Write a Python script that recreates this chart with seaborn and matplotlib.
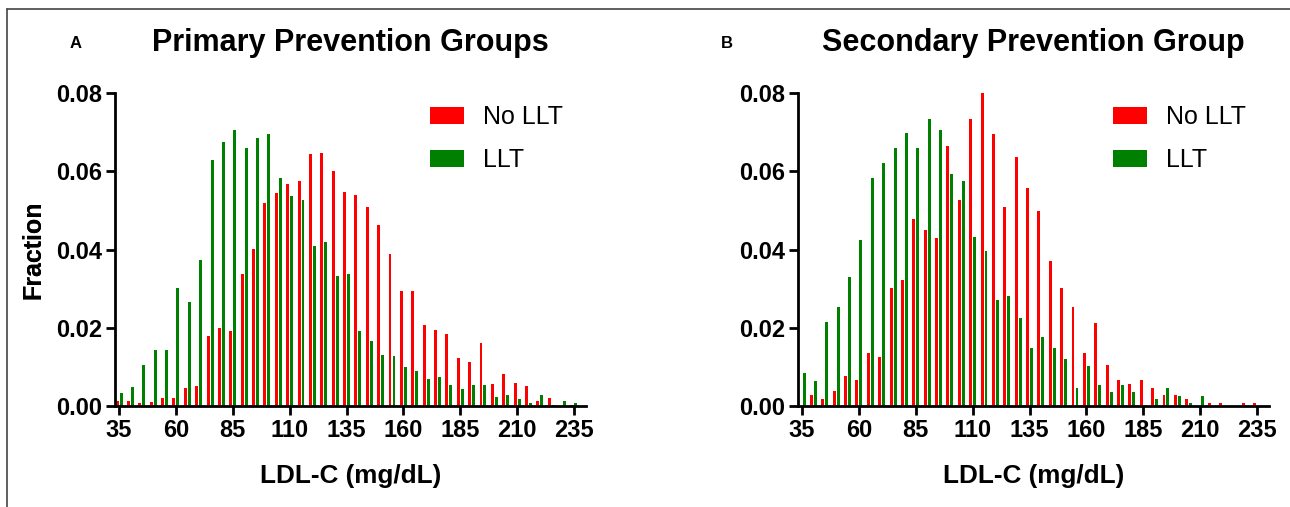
import matplotlib
matplotlib.use("Agg")
import matplotlib.pyplot as plt
import seaborn as sns
import pandas as pd
from matplotlib.lines import Line2D

# ---------------- data ----------------
ldl_bins = [35, 40, 45, 50, 55, 60, 65, 70, 75, 80, 85, 90, 95, 100, 105, 110, 115,
            120, 125, 130, 135, 140, 145, 150, 155, 160, 165, 170, 175, 180, 185,
            190, 195, 200, 205, 210, 215, 220, 225, 230, 235]

primary_no_llt = [0.0013, 0.0013, 0.0008, 0.0010, 0.0020, 0.0020, 0.0046, 0.0051, 0.0179,
                  0.0200, 0.0192, 0.0338, 0.0402, 0.0519, 0.0545, 0.0568, 0.0576, 0.0645,
                  0.0647, 0.0601, 0.0547, 0.0540, 0.0509, 0.0463, 0.0389, 0.0294, 0.0294,
                  0.0207, 0.0194, 0.0184, 0.0123, 0.0113, 0.0161, 0.0056, 0.0082, 0.0059,
                  0.0051, 0.0013, 0.0020, 0.0000, 0.0003]
primary_llt = [0.0033, 0.0049, 0.0105, 0.0143, 0.0143, 0.0302, 0.0266, 0.0373, 0.0629,
               0.0675, 0.0706, 0.0660, 0.0686, 0.0696, 0.0583, 0.0537, 0.0527, 0.0409,
               0.0420, 0.0333, 0.0338, 0.0192, 0.0166, 0.0130, 0.0128, 0.0100, 0.0090,
               0.0069, 0.0074, 0.0054, 0.0043, 0.0054, 0.0054, 0.0023, 0.0028, 0.0018,
               0.0008, 0.0028, 0.0003, 0.0013, 0.0008]

secondary_no_llt = [0.0000, 0.0028, 0.0018, 0.0038, 0.0077, 0.0067, 0.0136, 0.0125, 0.0302,
                    0.0322, 0.0478, 0.0450, 0.0430, 0.0665, 0.0527, 0.0734, 0.0801, 0.0696,
                    0.0509, 0.0637, 0.0558, 0.0499, 0.0371, 0.0302, 0.0253, 0.0136, 0.0212,
                    0.0105, 0.0067, 0.0056, 0.0067, 0.0046, 0.0028, 0.0028, 0.0018, 0.0000,
                    0.0008, 0.0008, 0.0000, 0.0008, 0.0008]
secondary_llt = [0.0084, 0.0064, 0.0215, 0.0253, 0.0330, 0.0425, 0.0583, 0.0622, 0.0660,
                 0.0698, 0.0660, 0.0734, 0.0706, 0.0593, 0.0576, 0.0432, 0.0397, 0.0271,
                 0.0281, 0.0225, 0.0148, 0.0177, 0.0148, 0.0120, 0.0046, 0.0102, 0.0054,
                 0.0036, 0.0054, 0.0036, 0.0000, 0.0018, 0.0046, 0.0026, 0.0008, 0.0026,
                 0.0000, 0.0000, 0.0000, 0.0000, 0.0000]

groups = ["No LLT", "LLT"]
group_colors = {"No LLT": "#FF0000", "LLT": "#008000"}
x_ticks = [35, 60, 85, 110, 135, 160, 185, 210, 235]
y_ticks = [0.00, 0.02, 0.04, 0.06, 0.08]
panel_titles = ["Primary Prevention Groups", "Secondary Prevention Group"]
panel_letters = ["A", "B"]
x_label = "LDL-C (mg/dL)"
y_label = "Fraction"


def long_frame(no_llt, llt):
    return pd.DataFrame({
        "ldl": ldl_bins * 2,
        "fraction": list(no_llt) + list(llt),
        "group": ["No LLT"] * len(ldl_bins) + ["LLT"] * len(ldl_bins),
    })


frames = [long_frame(primary_no_llt, primary_llt),
          long_frame(secondary_no_llt, secondary_llt)]

# ---------------- style ----------------
sns.set_theme(style="ticks")
plt.rcParams["font.family"] = ["Liberation Sans", "DejaVu Sans"]
plt.rcParams["text.color"] = "black"
plt.rcParams["axes.labelcolor"] = "black"
plt.rcParams["xtick.color"] = "black"
plt.rcParams["ytick.color"] = "black"

W, H = 1290, 507
fig = plt.figure(figsize=(W / 100, H / 100), dpi=100)

axes_px = [(115, 586), (798, 1269)]
top_px, bot_px = 93.3, 406
lw = 2.0

for i, (df, (x0, x1)) in enumerate(zip(frames, axes_px)):
    ax = fig.add_axes([x0 / W, 1 - bot_px / H, (x1 - x0) / W, (bot_px - top_px) / H])
    sns.barplot(data=df, x="ldl", y="fraction", hue="group", hue_order=groups,
                palette=group_colors, native_scale=True, width=0.7, gap=0.26,
                errorbar=None, saturation=1, linewidth=0, ax=ax)
    ax.set_xlim(33.2, 240.3)
    ax.set_ylim(0, 0.08)
    ax.set_xticks(x_ticks)
    ax.set_xticklabels([str(t) for t in x_ticks])
    ax.set_yticks(y_ticks)
    ax.set_yticklabels([f"{t:.2f}" for t in y_ticks])
    for s in ["top", "right"]:
        ax.spines[s].set_visible(False)
    for s in ["left", "bottom"]:
        ax.spines[s].set_linewidth(lw)
        ax.spines[s].set_color("black")
    ax.tick_params(axis="both", length=6.5, width=lw, color="black", pad=3.0,
                   labelsize=17, labelcolor="black")
    for lab in ax.get_xticklabels() + ax.get_yticklabels():
        lab.set_fontweight("bold")
    ax.set_xlabel(x_label, fontsize=18.8, fontweight="bold", va="center", color="black")
    ax.set_ylabel(y_label, fontsize=18, fontweight="bold", va="center", color="black")
    ax.xaxis.set_label_coords(0.5, (bot_px - 476) / (bot_px - top_px))
    ax.yaxis.set_label_coords((33 - x0) / (x1 - x0), 0.5)

    handles, labels = ax.get_legend_handles_labels()
    leg = ax.legend(handles, labels, frameon=False, loc="upper left",
                    bbox_to_anchor=(0.669, 0.962), borderpad=0, borderaxespad=0,
                    handlelength=1.36, handleheight=0.68, handletextpad=0.75,
                    labelspacing=0.75, fontsize=18)
    for t in leg.get_texts():
        t.set_color("black")

    cx = (x0 + x1) / 2
    fig.text(cx / W, 1 - 43 / H, panel_titles[i], ha="center", va="center",
             fontsize=22, fontweight="bold", color="black")

fig.text(76 / W, 1 - 44 / H, panel_letters[0], ha="center", va="center",
         fontsize=12, fontweight="bold", color="black")
fig.text(727 / W, 1 - 44 / H, panel_letters[1], ha="center", va="center",
         fontsize=12, fontweight="bold", color="black")

# outer frame (top and left edges)
fig.add_artist(Line2D([7 / W, 7 / W], [0, 1 - 9 / H], transform=fig.transFigure,
                      color="#444444", linewidth=1.2))
fig.add_artist(Line2D([7 / W, 1], [1 - 9 / H, 1 - 9 / H], transform=fig.transFigure,
                      color="#444444", linewidth=1.2))

fig.savefig("out.png", dpi=100)
